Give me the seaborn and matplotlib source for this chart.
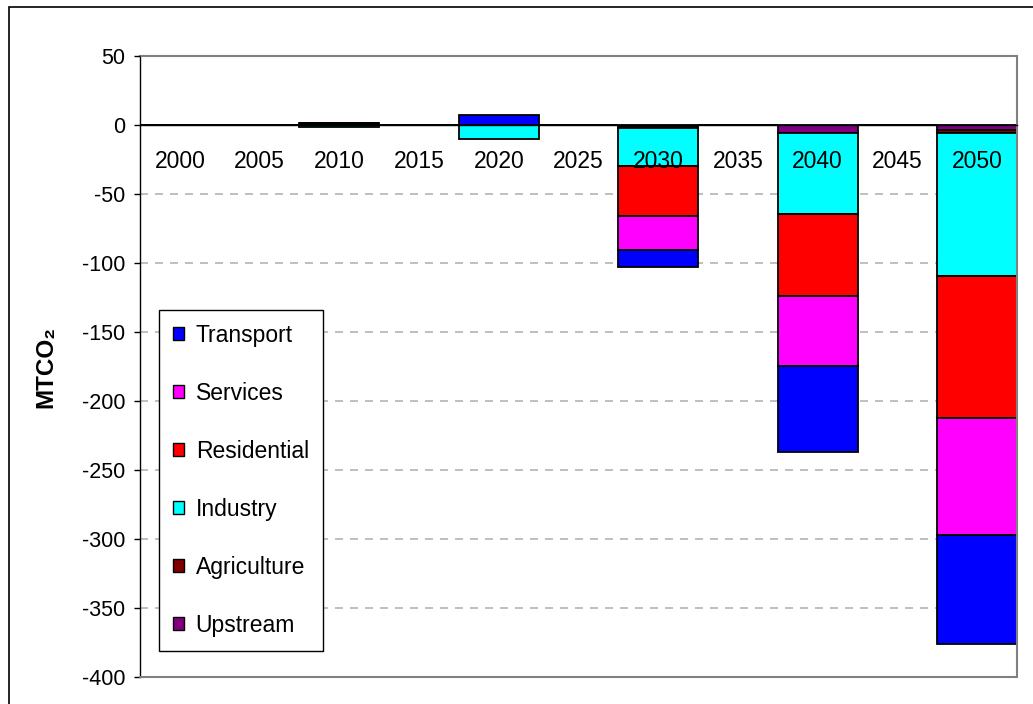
import numpy as np
import matplotlib
matplotlib.use("Agg")
import matplotlib.pyplot as plt
from matplotlib.patches import Rectangle, Patch
import seaborn as sns

years = ["2000", "2005", "2010", "2015", "2020", "2025",
         "2030", "2035", "2040", "2045", "2050"]

# values in MtCO2, stacked from the zero line outwards in this order
upstream    = [0, 0, 0.0,  0, 0.0,   0, -0.5,  0, -5.8,  0, -3.4]
agriculture = [0, 0, 1.6,  0, 0.0,   0, -1.7,  0, -0.3,  0, -2.4]
industry    = [0, 0, -1.6, 0, -10.5, 0, -27.3, 0, -58.5, 0, -103.6]
residential = [0, 0, 0.0,  0, 0.0,   0, -36.5, 0, -59.4, 0, -102.7]
services    = [0, 0, 0.0,  0, 0.0,   0, -24.9, 0, -50.9, 0, -85.3]
transport   = [0, 0, 0.0,  0, 7.5,   0, -11.9, 0, -61.9, 0, -78.7]

sectors = ["Upstream", "Agriculture", "Industry", "Residential", "Services", "Transport"]
series = [upstream, agriculture, industry, residential, services, transport]
colors = ["#800080", "#800000", "#00FFFF", "#FF0000", "#FF00FF", "#0000FF"]

sns.set_style("white")
plt.rcParams['font.family'] = ['Liberation Sans', 'DejaVu Sans']
plt.rcParams['axes.unicode_minus'] = False
for k in ['text.color', 'axes.labelcolor', 'xtick.color', 'ytick.color']:
    plt.rcParams[k] = 'black'

fig = plt.figure(figsize=(10.33, 7.04), dpi=100)
ax = fig.add_axes([140 / 1033, 27 / 704, 877 / 1033, 621 / 704])

# positive and negative parts stack separately (Excel style)
pos_base = np.zeros(len(years))
neg_base = np.zeros(len(years))
for name, vals, c in zip(sectors, series, colors):
    v = np.array(vals, dtype=float)
    base = np.where(v >= 0, pos_base, neg_base)
    sns.barplot(x=years, y=v, bottom=base, order=years, color=c, saturation=1,
                width=1.0, edgecolor="black", linewidth=1.3, errorbar=None, ax=ax)
    pos_base += np.clip(v, 0, None)
    neg_base += np.clip(v, None, 0)

ax.set_axisbelow(False)  # year labels are drawn over the bars
ax.set_xlim(-0.5, len(years) - 0.5)
ax.set_ylim(-400, 50)
ax.set_yticks(range(-400, 51, 50))

# dashed grid behind the bars
ax.hlines(range(-350, 0, 50), -0.5, len(years) - 0.5, colors="#b4b4b4",
          linestyles=(0, (4.8, 4.2)), linewidth=1.2, zorder=0.5)

# category axis sits on the zero line
ax.spines["bottom"].set_position(("data", 0))
ax.spines["bottom"].set_color("black")
ax.spines["bottom"].set_linewidth(1.0)
ax.spines["left"].set_color("black")
ax.spines["left"].set_linewidth(1.0)
for s in ["top", "right"]:
    ax.spines[s].set_visible(True)
    ax.spines[s].set_color("#808080")
    ax.spines[s].set_linewidth(1.5)
ax.axhline(-400, color="#808080", linewidth=1.5, clip_on=False, zorder=3)

ax.tick_params(axis="x", length=0, pad=18, labelsize=16.5)
ax.tick_params(axis="y", direction="out", length=4.5, width=1, pad=6,
               labelsize=15.5, left=True)
ax.set_xlabel("")
ax.set_ylabel("MTCO₂", fontsize=17.5, fontweight="bold")
ax.yaxis.set_label_coords(-0.094, 0.5)

handles = [Patch(facecolor=c, edgecolor="black", linewidth=1) for c in colors][::-1]
leg = ax.legend(handles, sectors[::-1], loc="upper left",
                bbox_to_anchor=(19 / 877, (677 - 310) / 621), borderaxespad=0,
                fontsize=16.5, frameon=True, fancybox=False, edgecolor="black",
                framealpha=1, labelspacing=1.53, handlelength=0.5,
                handleheight=0.5, handletextpad=0.5, borderpad=0.6)
leg.get_frame().set_linewidth(1.0)

# outer chart border
fig.add_artist(Rectangle((9 / 1033, -0.05), 1.1, 697 / 704 + 0.05,
                         transform=fig.transFigure, fill=False,
                         edgecolor="black", linewidth=1.2))

fig.savefig("out.png", dpi=100)
